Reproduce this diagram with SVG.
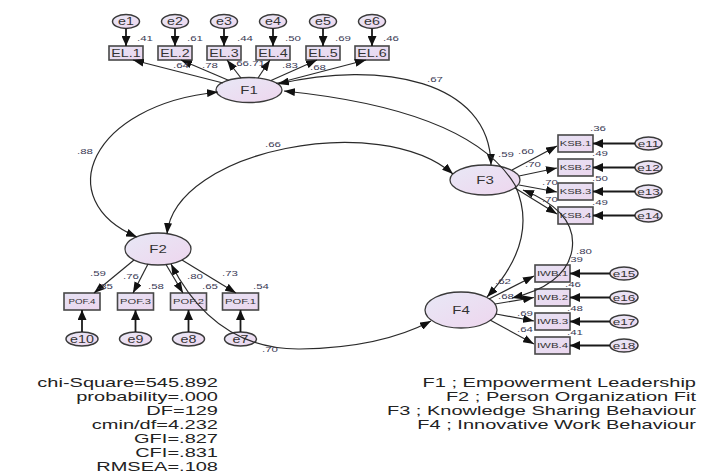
<svg xmlns="http://www.w3.org/2000/svg" width="728" height="475" viewBox="0 0 728 475">
<defs>
<linearGradient id="gl" x1="0" y1="0" x2="1" y2="1"><stop offset="0" stop-color="#e8e8f6"/><stop offset="1" stop-color="#eed6ee"/></linearGradient>
<linearGradient id="gb" x1="0" y1="0" x2="1" y2="1"><stop offset="0" stop-color="#e6e2f4"/><stop offset="1" stop-color="#ecd6ee"/></linearGradient>
<marker id="ma" markerUnits="userSpaceOnUse" markerWidth="11" markerHeight="8" refX="11" refY="4" orient="auto-start-reverse"><path d="M0,0 L11,4 L0,8 z" fill="#111"/></marker>
<marker id="mh" markerUnits="userSpaceOnUse" markerWidth="10" markerHeight="9" refX="10" refY="4.5" orient="auto"><path d="M0,0 L10,4.5 L0,9 z" fill="#111"/></marker>
</defs>
<style>
.box{fill:url(#gb);stroke:#484848;stroke-width:1.6}
.lat{fill:url(#gl);stroke:#3a3a3a;stroke-width:1.3}
.er{fill:url(#gl);stroke:#3a3a3a;stroke-width:1.5}
text{font-family:"Liberation Sans",Arial,sans-serif;fill:#333}
.c{text-anchor:middle}
.n{font-size:8px;fill:#3a3a55}
.ln{stroke:#2a2a2a;stroke-width:1.2;fill:none;marker-end:url(#ma)}
.cv{stroke:#2a2a2a;stroke-width:1.2;fill:none;marker-start:url(#ma);marker-end:url(#ma)}
.ea{stroke:#1a1a1a;stroke-width:1.8;fill:none;marker-end:url(#mh)}
.lg{font-size:12.2px;fill:#222}
</style>
<rect width="728" height="475" fill="#fff"/>

<g id="e1"><ellipse class="er" cx="126" cy="21.5" rx="13.5" ry="7"/><text class="c" font-size="10" transform="translate(126 25) scale(1.43 1)">e1</text></g>
<g id="e2"><ellipse class="er" cx="175" cy="21.5" rx="13.5" ry="7"/><text class="c" font-size="10" transform="translate(175 25) scale(1.43 1)">e2</text></g>
<g id="e3"><ellipse class="er" cx="224" cy="21.5" rx="13.5" ry="7"/><text class="c" font-size="10" transform="translate(224 25) scale(1.43 1)">e3</text></g>
<g id="e4"><ellipse class="er" cx="273" cy="21.5" rx="13.5" ry="7"/><text class="c" font-size="10" transform="translate(273 25) scale(1.43 1)">e4</text></g>
<g id="e5"><ellipse class="er" cx="323" cy="21.5" rx="13.5" ry="7"/><text class="c" font-size="10" transform="translate(323 25) scale(1.43 1)">e5</text></g>
<g id="e6"><ellipse class="er" cx="372" cy="21.5" rx="13.5" ry="7"/><text class="c" font-size="10" transform="translate(372 25) scale(1.43 1)">e6</text></g>

<g id="EL1"><rect class="box" x="109" y="46" width="34" height="14"/><text class="c" font-size="10" transform="translate(126 56.5) scale(1.43 1)">EL.1</text></g>
<g id="EL2"><rect class="box" x="158" y="46" width="34" height="14"/><text class="c" font-size="10" transform="translate(175 56.5) scale(1.43 1)">EL.2</text></g>
<g id="EL3"><rect class="box" x="207" y="46" width="34" height="14"/><text class="c" font-size="10" transform="translate(224 56.5) scale(1.43 1)">EL.3</text></g>
<g id="EL4"><rect class="box" x="256" y="46" width="34" height="14"/><text class="c" font-size="10" transform="translate(273 56.5) scale(1.43 1)">EL.4</text></g>
<g id="EL5"><rect class="box" x="306" y="46" width="34" height="14"/><text class="c" font-size="10" transform="translate(323 56.5) scale(1.43 1)">EL.5</text></g>
<g id="EL6"><rect class="box" x="355" y="46" width="34" height="14"/><text class="c" font-size="10" transform="translate(372 56.5) scale(1.43 1)">EL.6</text></g>

<g id="F1"><ellipse class="lat" cx="249" cy="90" rx="33" ry="12.5"/><text class="c" font-size="10.5" transform="translate(249 94) scale(1.43 1)">F1</text></g>
<g id="F2"><ellipse class="lat" cx="158" cy="249" rx="33" ry="16"/><text class="c" font-size="10.5" transform="translate(158 253) scale(1.43 1)">F2</text></g>
<g id="F3"><ellipse class="lat" cx="485" cy="180" rx="35" ry="15"/><text class="c" font-size="10.5" transform="translate(485 184) scale(1.43 1)">F3</text></g>
<g id="F4"><ellipse class="lat" cx="461" cy="310" rx="36" ry="18"/><text class="c" font-size="10.5" transform="translate(461 314) scale(1.43 1)">F4</text></g>

<g id="KSB1"><rect class="box" x="558" y="135" width="35" height="17"/><text class="c" font-size="7.8" transform="translate(575.5 146.3) scale(1.43 1)">KSB.1</text></g>
<g id="KSB2"><rect class="box" x="558" y="159" width="35" height="17"/><text class="c" font-size="7.8" transform="translate(575.5 170.3) scale(1.43 1)">KSB.2</text></g>
<g id="KSB3"><rect class="box" x="558" y="183" width="35" height="17"/><text class="c" font-size="7.8" transform="translate(575.5 194.3) scale(1.43 1)">KSB.3</text></g>
<g id="KSB4"><rect class="box" x="558" y="207" width="35" height="17"/><text class="c" font-size="7.8" transform="translate(575.5 218.3) scale(1.43 1)">KSB.4</text></g>
<g id="e11"><ellipse class="er" cx="648.5" cy="143.5" rx="13.5" ry="6.5"/><text class="c" font-size="9.5" transform="translate(648.5 147) scale(1.43 1)">e11</text></g>
<g id="e12"><ellipse class="er" cx="648.5" cy="167.5" rx="13.5" ry="6.5"/><text class="c" font-size="9.5" transform="translate(648.5 171) scale(1.43 1)">e12</text></g>
<g id="e13"><ellipse class="er" cx="648.5" cy="191.5" rx="13.5" ry="6.5"/><text class="c" font-size="9.5" transform="translate(648.5 195) scale(1.43 1)">e13</text></g>
<g id="e14"><ellipse class="er" cx="648.5" cy="215.5" rx="13.5" ry="6.5"/><text class="c" font-size="9.5" transform="translate(648.5 219) scale(1.43 1)">e14</text></g>

<g id="IWB1"><rect class="box" x="535" y="265" width="35" height="17"/><text class="c" font-size="8" transform="translate(552.5 276.3) scale(1.43 1)">IWB.1</text></g>
<g id="IWB2"><rect class="box" x="535" y="289" width="35" height="17"/><text class="c" font-size="8" transform="translate(552.5 300.3) scale(1.43 1)">IWB.2</text></g>
<g id="IWB3"><rect class="box" x="535" y="313" width="35" height="17"/><text class="c" font-size="8" transform="translate(552.5 324.3) scale(1.43 1)">IWB.3</text></g>
<g id="IWB4"><rect class="box" x="535" y="337" width="35" height="17"/><text class="c" font-size="8" transform="translate(552.5 348.3) scale(1.43 1)">IWB.4</text></g>
<g id="e15"><ellipse class="er" cx="624" cy="273.5" rx="14" ry="6.5"/><text class="c" font-size="9.5" transform="translate(624 277) scale(1.43 1)">e15</text></g>
<g id="e16"><ellipse class="er" cx="624" cy="297.5" rx="14" ry="6.5"/><text class="c" font-size="9.5" transform="translate(624 301) scale(1.43 1)">e16</text></g>
<g id="e17"><ellipse class="er" cx="624" cy="321.5" rx="14" ry="6.5"/><text class="c" font-size="9.5" transform="translate(624 325) scale(1.43 1)">e17</text></g>
<g id="e18"><ellipse class="er" cx="624" cy="345.5" rx="14" ry="6.5"/><text class="c" font-size="9.5" transform="translate(624 349) scale(1.43 1)">e18</text></g>

<g id="POF4"><rect class="box" x="64" y="293" width="36" height="17"/><text class="c" font-size="6.8" transform="translate(82 304) scale(1.43 1)">POF.4</text></g>
<g id="POF3"><rect class="box" x="117.5" y="293" width="36" height="17"/><text class="c" font-size="7.8" transform="translate(135.5 304.3) scale(1.43 1)">POF.3</text></g>
<g id="POF2"><rect class="box" x="170.5" y="293" width="36" height="17"/><text class="c" font-size="7.8" transform="translate(188.5 304.3) scale(1.43 1)">POF.2</text></g>
<g id="POF1"><rect class="box" x="222.5" y="293" width="36" height="17"/><text class="c" font-size="7.8" transform="translate(240.5 304.3) scale(1.43 1)">POF.1</text></g>
<g id="e10"><ellipse class="er" cx="82" cy="339" rx="16" ry="7"/><text class="c" font-size="10" transform="translate(82 342.6) scale(1.43 1)">e10</text></g>
<g id="e9"><ellipse class="er" cx="135.5" cy="339" rx="16" ry="7"/><text class="c" font-size="10" transform="translate(135.5 342.6) scale(1.43 1)">e9</text></g>
<g id="e8"><ellipse class="er" cx="188.5" cy="339" rx="16" ry="7"/><text class="c" font-size="10" transform="translate(188.5 342.6) scale(1.43 1)">e8</text></g>
<g id="e7"><ellipse class="er" cx="240.5" cy="339" rx="16" ry="7"/><text class="c" font-size="10" transform="translate(240.5 342.6) scale(1.43 1)">e7</text></g>

<g id="connectors">
<path class="ea" d="M126,28.5 V46"/><path class="ea" d="M175,28.5 V46"/><path class="ea" d="M224,28.5 V46"/>
<path class="ea" d="M273,28.5 V46"/><path class="ea" d="M323,28.5 V46"/><path class="ea" d="M372,28.5 V46"/>
<path class="ea" d="M635,143.5 H593"/><path class="ea" d="M635,167.5 H593"/><path class="ea" d="M635,191.5 H593"/><path class="ea" d="M635,215.5 H593"/>
<path class="ea" d="M610,273.5 H570"/><path class="ea" d="M610,297.5 H570"/><path class="ea" d="M610,321.5 H570"/><path class="ea" d="M610,345.5 H570"/>
<path class="ea" d="M82,332 V310"/><path class="ea" d="M135.5,332 V310"/><path class="ea" d="M188.5,332 V310"/><path class="ea" d="M240.5,332 V310"/>

<path class="ln" d="M223,83 L133,60"/><path class="ln" d="M229,80.5 L181,60"/><path class="ln" d="M241,78 L227,60"/>
<path class="ln" d="M258,78 L270,60"/><path class="ln" d="M271,80.5 L317,60"/><path class="ln" d="M276,83.5 L366,60"/>
<path class="ln" d="M512,170 L557,146"/><path class="ln" d="M519,176 L557,168"/><path class="ln" d="M519,185 L557,192"/><path class="ln" d="M515,188 L557,214"/>
<path class="ln" d="M489,299 L534,276"/><path class="ln" d="M495,304 L534,297.5"/><path class="ln" d="M496,314 L534,321"/><path class="ln" d="M490,320 L534,344"/>
<path class="ln" d="M134,260 L94,293"/><path class="ln" d="M148,264 L133,293"/><path class="ln" d="M166,264.5 L183,293"/><path class="ln" d="M182,260 L236,293"/>

<path class="cv" d="M218,92 C90,105 50,200 137,237"/>
<path class="cv" d="M167,234 C175,150 380,110 453,174"/>
<path class="cv" d="M278,84 C380,60 490,80 491,165"/>
<path class="cv" d="M284,91 Q470,110 515,185 Q540,240 487,297"/>
<path class="cv" d="M523,190 Q578,212 572,250 Q566,285 512,298"/>
<path class="cv" d="M171,264 Q215,350 300,349 Q380,348 431,321"/>
</g>

<g id="labels">
<text class="n" transform="translate(137 41) scale(1.43 1)">.41</text>
<text class="n" transform="translate(187 41) scale(1.43 1)">.61</text>
<text class="n" transform="translate(237 41) scale(1.43 1)">.44</text>
<text class="n" transform="translate(285 41) scale(1.43 1)">.50</text>
<text class="n" transform="translate(335 41) scale(1.43 1)">.69</text>
<text class="n" transform="translate(383 41) scale(1.43 1)">.46</text>
<text class="n" transform="translate(173 68) scale(1.43 1)">.64</text>
<text class="n" transform="translate(202 68) scale(1.43 1)">.78</text>
<text class="n" transform="translate(233 66) scale(1.43 1)">.66</text>
<text class="n" transform="translate(249 66) scale(1.43 1)">.71</text>
<text class="n" transform="translate(282 68) scale(1.43 1)">.83</text>
<text class="n" transform="translate(310 70) scale(1.43 1)">.68</text>
<text class="n" transform="translate(77 154) scale(1.43 1)">.88</text>
<text class="n" transform="translate(265 147) scale(1.43 1)">.66</text>
<text class="n" transform="translate(427 82) scale(1.43 1)">.67</text>
<text class="n" transform="translate(590 131) scale(1.43 1)">.36</text>
<text class="n" transform="translate(592 156) scale(1.43 1)">.49</text>
<text class="n" transform="translate(592 181) scale(1.43 1)">.50</text>
<text class="n" transform="translate(592 205) scale(1.43 1)">.49</text>
<text class="n" transform="translate(498 157) scale(1.43 1)">.59</text>
<text class="n" transform="translate(518 154) scale(1.43 1)">.60</text>
<text class="n" transform="translate(525 167) scale(1.43 1)">.70</text>
<text class="n" transform="translate(542 185) scale(1.43 1)">.70</text>
<text class="n" transform="translate(542 202) scale(1.43 1)">.70</text>
<text class="n" transform="translate(576 254) scale(1.43 1)">.80</text>
<text class="n" transform="translate(567 262) scale(1.43 1)">.39</text>
<text class="n" transform="translate(565 287) scale(1.43 1)">.46</text>
<text class="n" transform="translate(567 311) scale(1.43 1)">.48</text>
<text class="n" transform="translate(567 335) scale(1.43 1)">.41</text>
<text class="n" transform="translate(495 284) scale(1.43 1)">.62</text>
<text class="n" transform="translate(498 299) scale(1.43 1)">.68</text>
<text class="n" transform="translate(517 316) scale(1.43 1)">.69</text>
<text class="n" transform="translate(517 332) scale(1.43 1)">.64</text>
<text class="n" transform="translate(90 276) scale(1.43 1)">.59</text>
<text class="n" transform="translate(97 289) scale(1.43 1)">.35</text>
<text class="n" transform="translate(123 279) scale(1.43 1)">.76</text>
<text class="n" transform="translate(148 289) scale(1.43 1)">.58</text>
<text class="n" transform="translate(187 279) scale(1.43 1)">.80</text>
<text class="n" transform="translate(202 289) scale(1.43 1)">.65</text>
<text class="n" transform="translate(222 276) scale(1.43 1)">.73</text>
<text class="n" transform="translate(253 289) scale(1.43 1)">.54</text>
<text class="n" transform="translate(262 352) scale(1.43 1)">.70</text>
</g>

<g id="fit" text-anchor="end">
<text class="lg" transform="translate(218 386.5) scale(1.64 1)">chi-Square=545.892</text>
<text class="lg" transform="translate(218 400.5) scale(1.64 1)">probability=.000</text>
<text class="lg" transform="translate(218 414.5) scale(1.64 1)">DF=129</text>
<text class="lg" transform="translate(218 428.5) scale(1.64 1)">cmin/df=4.232</text>
<text class="lg" transform="translate(218 442.5) scale(1.64 1)">GFI=.827</text>
<text class="lg" transform="translate(218 456.5) scale(1.64 1)">CFI=.831</text>
<text class="lg" transform="translate(218 470.5) scale(1.64 1)">RMSEA=.108</text>
</g>
<g id="legend" text-anchor="end">
<text class="lg" transform="translate(696 386.5) scale(1.64 1)">F1 ; Empowerment Leadership</text>
<text class="lg" transform="translate(696 400.5) scale(1.64 1)">F2 ; Person Organization Fit</text>
<text class="lg" transform="translate(696 414.5) scale(1.64 1)">F3 ; Knowledge Sharing Behaviour</text>
<text class="lg" transform="translate(696 428.5) scale(1.64 1)">F4 ; Innovative Work Behaviour</text>
</g>
</svg>
